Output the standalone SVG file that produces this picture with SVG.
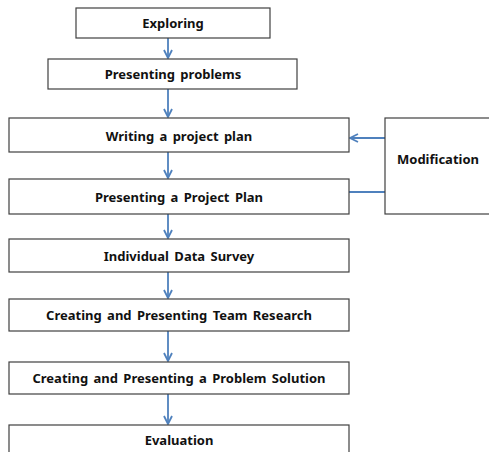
<svg xmlns="http://www.w3.org/2000/svg" width="489" height="452" viewBox="0 0 489 452">
<defs>
<style>
.box{fill:#fff;stroke:#404040;stroke-width:1.2}
.t{font-family:"Noto Sans","Liberation Sans",sans-serif;font-weight:bold;font-size:13px;fill:#111;text-anchor:middle;word-spacing:2px}
.c{stroke:#4F81BD;stroke-width:1.8;fill:none}
</style>
<marker id="ah" viewBox="0 0 10 10" refX="9" refY="5" markerWidth="10" markerHeight="10" markerUnits="userSpaceOnUse" orient="auto">
<polyline points="1,1 9,5 1,9" fill="none" stroke="#4F81BD" stroke-width="1.8"/>
</marker>
</defs>
<rect width="489" height="452" fill="#fff"/>
<g id="connectors">
<line class="c" x1="168" y1="38" x2="168" y2="58" marker-end="url(#ah)"/>
<line class="c" x1="168" y1="89" x2="168" y2="117" marker-end="url(#ah)"/>
<line class="c" x1="168" y1="152" x2="168" y2="178" marker-end="url(#ah)"/>
<line class="c" x1="168" y1="214" x2="168" y2="238" marker-end="url(#ah)"/>
<line class="c" x1="168" y1="272" x2="168" y2="298" marker-end="url(#ah)"/>
<line class="c" x1="168" y1="331" x2="168" y2="361" marker-end="url(#ah)"/>
<line class="c" x1="168" y1="394" x2="168" y2="424" marker-end="url(#ah)"/>
<line class="c" x1="385" y1="138" x2="350" y2="138" marker-end="url(#ah)"/>
<line class="c" x1="349" y1="192" x2="385" y2="192"/>
</g>
<g id="exploring"><rect class="box" x="76" y="8" width="194" height="30"/><text class="t" x="173" y="28">Exploring</text></g>
<g id="presenting-problems"><rect class="box" x="48" y="59" width="249" height="30"/><text class="t" x="173" y="79">Presenting problems</text></g>
<g id="writing-plan"><rect class="box" x="9" y="118" width="340" height="34"/><text class="t" x="179" y="140.5">Writing a project plan</text></g>
<g id="presenting-plan"><rect class="box" x="9" y="179" width="340" height="35"/><text class="t" x="179" y="201.5">Presenting a Project Plan</text></g>
<g id="modification"><rect class="box" x="385" y="118" width="110" height="96"/><text class="t" x="438" y="164">Modification</text></g>
<g id="data-survey"><rect class="box" x="9" y="239" width="340" height="33"/><text class="t" x="179" y="260.5">Individual Data Survey</text></g>
<g id="team-research"><rect class="box" x="9" y="299" width="340" height="32"/><text class="t" x="179" y="320">Creating and Presenting Team Research</text></g>
<g id="problem-solution"><rect class="box" x="9" y="362" width="340" height="32"/><text class="t" x="179" y="382.5">Creating and Presenting a Problem Solution</text></g>
<g id="evaluation"><rect class="box" x="9" y="425" width="340" height="40"/><text class="t" x="179" y="445">Evaluation</text></g>
</svg>
